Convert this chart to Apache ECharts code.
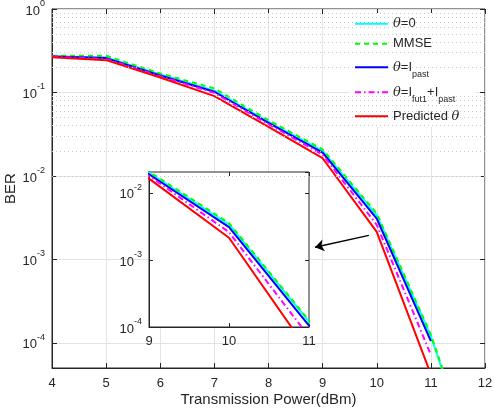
<!DOCTYPE html>
<html>
<head>
<meta charset="utf-8">
<script src="https://cdn.jsdelivr.net/npm/echarts@6/dist/echarts.min.js"></script>
<style>
html,body{margin:0;padding:0;background:#fff;}
#chart{width:494px;height:410px;}
</style>
</head>
<body>
<div id="chart"></div>
<script>
// ---------- data ----------
const power = [4, 5, 6, 7, 8, 9, 10, 11, 12];
const seriesNames = ['θ=0', 'MMSE', 'θ=Ipast', 'θ=Ifut1+Ipast', 'Predicted θ'];
const berTheta0    = [0.272, 0.262, 0.164, 0.105, 0.0444, 0.0200, 0.00338, 1.2e-4, 1.5e-6];
const berMMSE      = [0.276, 0.275, 0.169, 0.1117, 0.0465, 0.0208, 0.00355, 1.25e-4, 1.6e-6];
const berIpast     = [0.270, 0.258, 0.160, 0.102, 0.0431, 0.0190, 0.00308, 1.05e-4, null];
const berIfutIpast = [0.269, 0.252, 0.157, 0.099, 0.0417, 0.0180, 0.00260, 7.2e-5, null];
const berPredicted = [0.264, 0.244, 0.151, 0.0903, 0.0386, 0.0163, 0.00214, 4.2e-5, null];
const xTicksMain = [4, 12];
const yRangeMain = [5e-5, 1];
const xRangeInset = [9, 11];
const yRangeInset = [1e-4, 0.0205];
const arrowTail = [9.854, 0.00194];
const arrowHead = [8.858, 0.00140];

// ---------- style ----------
const FONT = 'Liberation Sans, Arial, Helvetica, sans-serif';
const TXT = '#262626';
const colors = ['#00FFFF', '#00FF00', '#0000FF', '#FF00FF', '#FF0000'];
const dashes = ['solid', [5, 4], 'solid', [6, 3, 1.5, 3], 'solid'];
const allData = [berTheta0, berMMSE, berIpast, berIfutIpast, berPredicted];

// minor grid positions of the log axis (2..9 x 10^k)
const minorGrid = [];
for (let e = -5; e <= -1; e++) {
  for (let k = 2; k <= 9; k++) {
    const v = k * Math.pow(10, e);
    if (v > yRangeMain[0] * 1.0001 && v < yRangeMain[1]) minorGrid.push(v);
  }
}

function powLabel(v) {
  const e = Math.round(Math.log10(v));
  return '{b|10}{s|' + e + '}';
}
const powRich = {
  b: {fontSize: 13, lineHeight: 28, padding: [4, 0, 0, 0], color: TXT, fontFamily: FONT},
  s: {fontSize: 9, lineHeight: 10, padding: [4, 0, 0, 0], verticalAlign: 'top', color: TXT, fontFamily: FONT}
};

const legendText = {
  'θ=0': '{it|θ}{t|=0}',
  'MMSE': '{t|MMSE}',
  'θ=Ipast': '{it|θ}{t|=I}{sub|past}',
  'θ=Ifut1+Ipast': '{it|θ}{t|=I}{sub|fut1}{t|+I}{sub|past}',
  'Predicted θ': '{t|Predicted }{it|θ}'
};
const legendRich = {
  t: {fontSize: 13, lineHeight: 14, padding: [6, 0, 6, 0], color: TXT, fontFamily: FONT},
  it: {fontSize: 13, lineHeight: 14, padding: [6, 0, 6, 0], fontStyle: 'italic', color: TXT, fontFamily: 'DejaVu Serif'},
  sub: {fontSize: 9, lineHeight: 10, padding: [15, 0, 1, 0], color: TXT, fontFamily: FONT}
};
const legendCenters = [24.3, 44.3, 67.7, 92.7, 116.7];

const series = [];
allData.forEach((vals, i) => {
  const base = {
    type: 'line',
    name: seriesNames[i],
    symbol: 'none',
    clip: true,
    animation: false,
    lineStyle: {color: colors[i], width: 2, type: dashes[i]},
    itemStyle: {color: colors[i]},
    emphasis: {disabled: true},
    data: power.map((x, j) => [x, vals[j]])
  };
  const main = Object.assign({}, base, {xAxisIndex: 0, yAxisIndex: 0, z: 2});
  if (i === 0) {
    main.markLine = {
      silent: true, animation: false, symbol: ['none', 'none'],
      label: {show: false}, emphasis: {disabled: true},
      lineStyle: {color: '#c8c8c8', type: [1, 3], width: 1},
      data: minorGrid.map(v => ({yAxis: v}))
    };
  }
  if (i === 4) {
    main.markLine = {
      silent: true, animation: false, symbol: ['none', 'arrow'], symbolSize: 9,
      label: {show: false}, emphasis: {disabled: true},
      lineStyle: {color: '#000', type: 'solid', width: 1.5},
      data: [[{coord: arrowTail}, {coord: arrowHead}]]
    };
  }
  series.push(main);
  series.push(Object.assign({}, base, {xAxisIndex: 1, yAxisIndex: 1, z: 5}));
});

const legends = seriesNames.map((n, i) => ({
  data: [n],
  left: 354,
  top: legendCenters[i] - 13,
  orient: 'vertical',
  padding: 0,
  itemGap: 0,
  itemWidth: 33,
  itemHeight: 14,
  selectedMode: false,
  z: 6,
  itemStyle: {opacity: 0},
  formatter: name => legendText[name],
  textStyle: {color: TXT, fontSize: 13, fontFamily: FONT, rich: legendRich}
}));

const option = {
  animation: false,
  backgroundColor: '#fff',
  textStyle: {fontFamily: FONT},
  grid: [
    {left: 52, top: 9, width: 433, height: 359, show: true, borderColor: TXT, borderWidth: 1, backgroundColor: 'transparent', containLabel: false, outerBoundsMode: 'none'},
    {left: 149, top: 172, width: 160, height: 155, show: true, borderColor: TXT, borderWidth: 1, backgroundColor: '#fff', z: 3, containLabel: false, outerBoundsMode: 'none'}
  ],
  graphic: {elements: [{type: 'rect', left: 350, top: 13, shape: {width: 126, height: 114}, style: {fill: '#fff'}, z: 3, silent: true}]},
  legend: legends,
  xAxis: [
    {gridIndex: 0, type: 'value', min: xTicksMain[0], max: xTicksMain[1], interval: 1,
     axisLine: {show: true, lineStyle: {color: TXT}},
     axisTick: {show: true, inside: true, length: 5, lineStyle: {color: TXT}},
     axisLabel: {color: TXT, fontSize: 13, margin: 9, fontFamily: FONT},
     splitLine: {show: true, lineStyle: {color: '#e3e3e3', width: 1}},
     name: 'Transmission Power(dBm)', nameLocation: 'middle', nameGap: 24, nameMoveOverlap: false,
     nameTextStyle: {color: TXT, fontSize: 15, fontFamily: FONT}},
    {gridIndex: 1, type: 'value', min: xRangeInset[0], max: xRangeInset[1], interval: 1, z: 4,
     axisLine: {show: true, lineStyle: {color: TXT}},
     axisTick: {show: true, inside: true, length: 4, lineStyle: {color: TXT}},
     axisLabel: {color: TXT, fontSize: 13, margin: 8, fontFamily: FONT},
     splitLine: {show: false}},
    {gridIndex: 0, type: 'value', position: 'top', min: xTicksMain[0], max: xTicksMain[1], interval: 1,
     axisLine: {show: false}, axisLabel: {show: false}, splitLine: {show: false},
     axisTick: {show: true, inside: true, length: 5, lineStyle: {color: TXT}}},
    {gridIndex: 1, type: 'value', position: 'top', min: xRangeInset[0], max: xRangeInset[1], interval: 1, z: 4,
     axisLine: {show: false}, axisLabel: {show: false}, splitLine: {show: false},
     axisTick: {show: true, inside: true, length: 4, lineStyle: {color: TXT}}}
  ],
  yAxis: [
    {gridIndex: 0, type: 'log', logBase: 10, min: yRangeMain[0], max: yRangeMain[1],
     axisLine: {show: true, lineStyle: {color: TXT}},
     axisTick: {show: true, inside: true, length: 5, lineStyle: {color: TXT}},
     axisLabel: {formatter: powLabel, rich: powRich, showMinLabel: false, margin: 7, color: TXT},
     splitLine: {show: true, lineStyle: {color: '#e3e3e3', width: 1}},
     name: 'BER', nameLocation: 'middle', nameGap: 34, nameMoveOverlap: false,
     nameTextStyle: {color: TXT, fontSize: 15, fontFamily: FONT}},
    {gridIndex: 1, type: 'log', logBase: 10, min: yRangeInset[0], max: yRangeInset[1], z: 4,
     axisLine: {show: true, lineStyle: {color: TXT}},
     axisTick: {show: true, inside: true, length: 4, lineStyle: {color: TXT}},
     axisLabel: {formatter: powLabel, rich: powRich, showMaxLabel: false, margin: 7, color: TXT},
     splitLine: {show: false}},
    {gridIndex: 0, type: 'log', logBase: 10, position: 'right', min: yRangeMain[0], max: yRangeMain[1],
     axisLine: {show: false}, axisLabel: {show: false}, splitLine: {show: false},
     axisTick: {show: true, inside: true, length: 5, lineStyle: {color: TXT}}},
    {gridIndex: 1, type: 'log', logBase: 10, position: 'right', min: yRangeInset[0], max: yRangeInset[1], z: 4,
     axisLine: {show: false}, axisLabel: {show: false}, splitLine: {show: false},
     axisTick: {show: true, inside: true, length: 4, lineStyle: {color: TXT}}}
  ],
  series: series
};

const chart = echarts.init(document.getElementById('chart'), null, {renderer: 'canvas'});
chart.setOption(option);
</script>
</body>
</html>
